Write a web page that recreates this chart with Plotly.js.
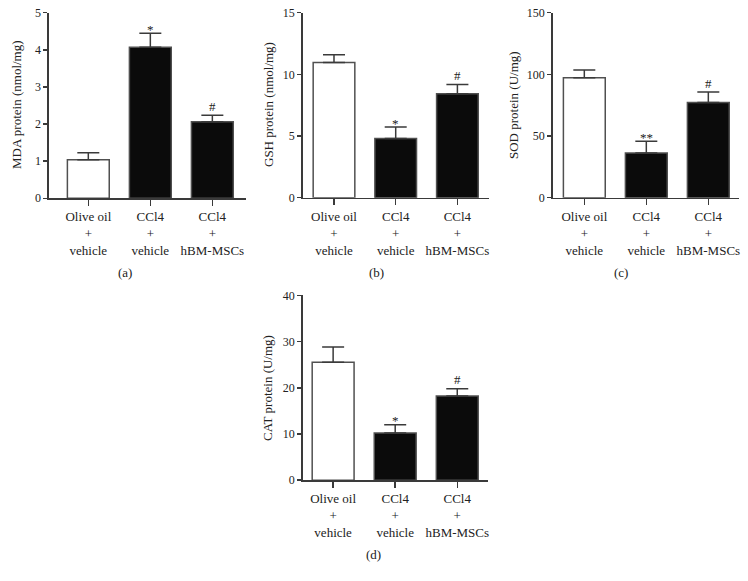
<!DOCTYPE html>
<html>
<head>
<meta charset="utf-8">
<script src="https://cdn.plot.ly/plotly-3.0.1.min.js"></script>
<style>html,body{margin:0;padding:0;background:#fff;}#chart{width:748px;height:581px;}</style>
</head>
<body>
<div id="chart"></div>
<script>
// ---- data ----
var categories = ["Olive oil<br>+<br>vehicle", "CCl4<br>+<br>vehicle", "CCl4<br>+<br>hBM-MSCs"];
var mdaValues = [1.04, 4.07, 2.06];
var mdaErrors = [0.19, 0.38, 0.18];
var gshValues = [10.97, 4.81, 8.42];
var gshErrors = [0.62, 0.92, 0.75];
var sodValues = [97.3, 36.2, 77.3];
var sodErrors = [6.2, 9.5, 8.4];
var catValues = [25.5, 10.2, 18.2];
var catErrors = [3.3, 1.8, 1.6];
var marksStd = ["", "*", "#"];
var marksSod = ["", "**", "#"];
var yTitles = ["MDA protein (nmol/mg)", "GSH protein (nmol/mg)", "SOD protein (U/mg)", "CAT protein (U/mg)"];
var panelLabels = ["(a)", "(b)", "(c)", "(d)"];

// ---- styles ----
var FONT = "'Liberation Serif', 'Times New Roman', serif";
var TXT = "#222222";
var AX = "#3a3a3a";
var barColors = ["#ffffff", "#0b0b0b", "#0b0b0b"];

var panels = [
  {vals: mdaValues, errs: mdaErrors, marks: marksStd, xa: "x",  ya: "y",  dtick: 1,  yr: [0, 5]},
  {vals: gshValues, errs: gshErrors, marks: marksStd, xa: "x2", ya: "y2", dtick: 5,  yr: [0, 15]},
  {vals: sodValues, errs: sodErrors, marks: marksSod, xa: "x3", ya: "y3", dtick: 50, yr: [0, 150]},
  {vals: catValues, errs: catErrors, marks: marksStd, xa: "x4", ya: "y4", dtick: 10, yr: [0, 40]}
];

var traces = panels.map(function (p) {
  return {
    type: "bar",
    x: categories,
    y: p.vals,
    xaxis: p.xa,
    yaxis: p.ya,
    marker: {color: barColors, line: {color: "#505050", width: 1.5}},
    error_y: {type: "data", symmetric: false, array: p.errs, arrayminus: [0, 0, 0],
              color: "#3a3a3a", thickness: 1.5, width: 11},
    showlegend: false,
    hoverinfo: "y"
  };
});

var xDomains = [[0.0655, 0.3295], [0.4047, 0.6544], [0.7389, 0.9884], [0.4047, 0.6528]];
var xRanges = [[-0.634, 2.55], [-0.507, 2.52], [-0.51, 2.50], [-0.49, 2.50]];
var yDomains = [[0.6587, 0.9781], [0.6597, 0.9781], [0.6597, 0.9781], [0.1735, 0.4917]];

var layout = {
  width: 748, height: 581,
  margin: {l: 0, r: 0, t: 0, b: 0},
  paper_bgcolor: "#ffffff",
  plot_bgcolor: "#ffffff",
  bargap: 0.325,
  font: {family: FONT, color: TXT, size: 13},
  annotations: []
};

var yTitleX = [16, 268, 513, 268];
var yTitleY = [105, 105, 105, 388];
var panelLabelPos = [[125, 272], [376.7, 272], [621, 272], [373.3, 554]];

panels.forEach(function (p, i) {
  var xk = i === 0 ? "xaxis" : "xaxis" + (i + 1);
  var yk = i === 0 ? "yaxis" : "yaxis" + (i + 1);
  layout[xk] = {
    domain: xDomains[i], range: xRanges[i], anchor: p.ya, type: "category",
    showline: true, linecolor: AX, linewidth: 1.5, showgrid: false, zeroline: false,
    ticks: "outside", ticklen: 6, tickwidth: 1.5, tickcolor: AX,
    tickfont: {family: FONT, size: 13, color: TXT}, fixedrange: true
  };
  layout[yk] = {
    domain: yDomains[i], range: p.yr, anchor: p.xa, dtick: p.dtick, tick0: 0,
    showline: true, linecolor: AX, linewidth: 1.5, showgrid: false, zeroline: false,
    ticks: "outside", ticklen: 4, tickwidth: 1.5, tickcolor: AX,
    tickfont: {family: FONT, size: 12, color: TXT}, fixedrange: true
  };
  // significance marks above error bars
  p.marks.forEach(function (m, j) {
    if (!m) return;
    layout.annotations.push({
      xref: p.xa, yref: p.ya, x: categories[j], y: p.vals[j] + p.errs[j],
      text: m, showarrow: false, xanchor: "center", yanchor: "middle",
      yshift: m === "#" ? 9 : 4, font: {family: FONT, size: 13, color: TXT}
    });
  });
  // y-axis titles
  layout.annotations.push({
    xref: "paper", yref: "paper", x: yTitleX[i] / 748, y: 1 - yTitleY[i] / 581,
    text: yTitles[i], textangle: -90, showarrow: false,
    xanchor: "center", yanchor: "middle", font: {family: FONT, size: 13, color: TXT}
  });
  // panel labels
  layout.annotations.push({
    xref: "paper", yref: "paper", x: panelLabelPos[i][0] / 748, y: 1 - panelLabelPos[i][1] / 581,
    text: panelLabels[i], showarrow: false,
    xanchor: "center", yanchor: "middle", font: {family: FONT, size: 13, color: TXT}
  });
});

Plotly.newPlot("chart", traces, layout, {displayModeBar: false, staticPlot: true});
</script>
</body>
</html>
